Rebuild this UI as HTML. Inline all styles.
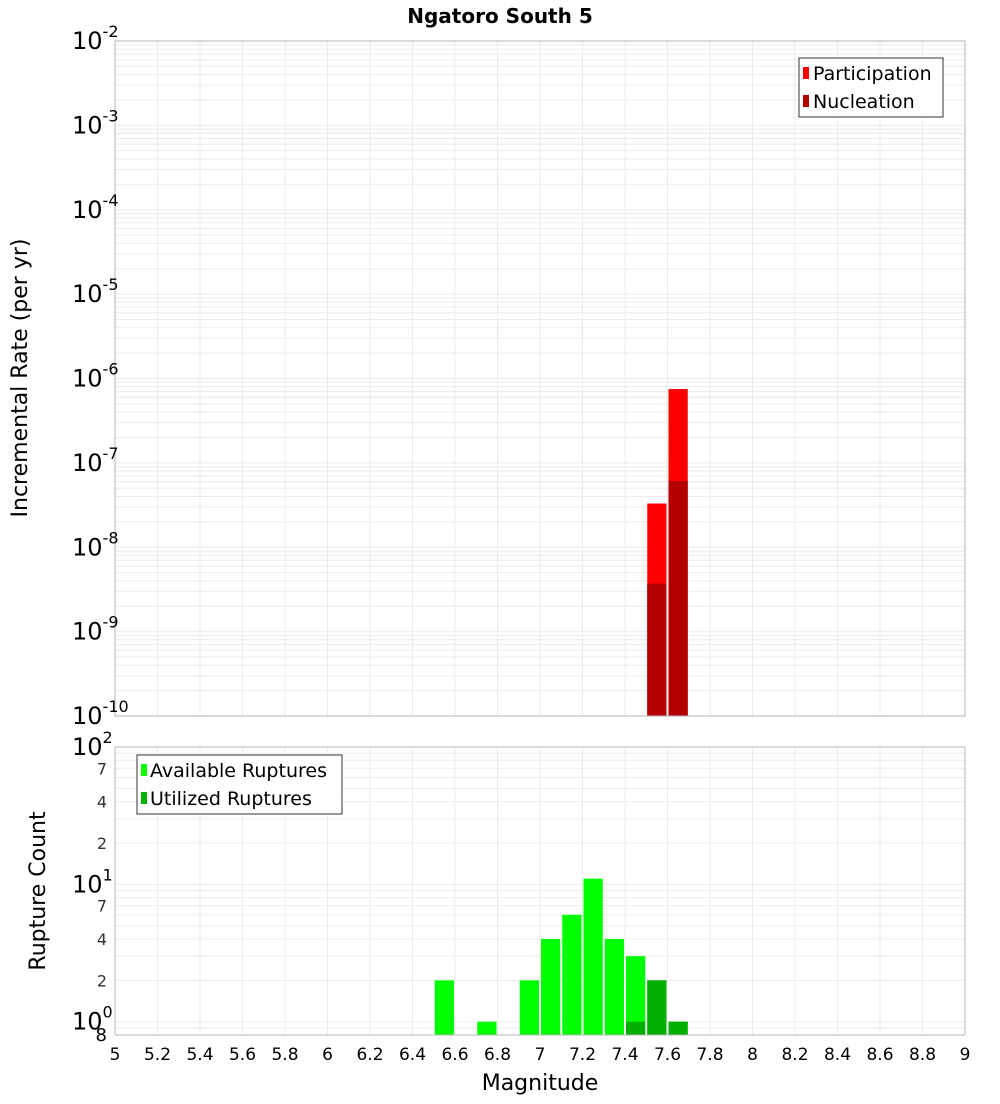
<!DOCTYPE html>
<html><head><meta charset="utf-8"><style>
body{margin:0;background:#fff;font-family:"DejaVu Sans","Liberation Sans",sans-serif}
</style></head><body>
<svg id="c" width="1000" height="1100" xmlns="http://www.w3.org/2000/svg" font-family="DejaVu Sans, Liberation Sans, sans-serif"></svg>
<script>
const mags=[6.55,6.75,6.95,7.05,7.15,7.25,7.35,7.45,7.55,7.65];
const available=[2,1,2,4,6,11,4,3,2,1];
const utilized=[0,0,0,0,0,0,0,1,2,1];
const rateMags=[7.55,7.65];
const participation=[3.3e-8,7.5e-7];
const nucleation=[3.7e-9,6.1e-8];
const xTicks=[5,5.2,5.4,5.6,5.8,6,6.2,6.4,6.6,6.8,7,7.2,7.4,7.6,7.8,8,8.2,8.4,8.6,8.8,9];
const topExp=[-10,-9,-8,-7,-6,-5,-4,-3,-2];
const botMinor=[2,4,7,20,40,70];

const S=document.getElementById('c'),NS='http://www.w3.org/2000/svg';
function el(t,a,p){const e=document.createElementNS(NS,t);for(const k in a)e.setAttribute(k,a[k]);(p||S).appendChild(e);return e;}
const X0=115,X1=965;
const x=m=>X0+(m-5)/4*(X1-X0);
const T0=41,T1=716;
const yTop=v=>T0+(-2-Math.log10(v))/8*(T1-T0);
const B0=747,B1=1035,bl=Math.log10(0.8);
const yBot=v=>B0+(2-Math.log10(v))/(2-bl)*(B1-B0);

el('text',{x:500,y:23,'text-anchor':'middle','font-size':20,'font-weight':'bold',}).textContent='Ngatoro South 5';

// top panel
const g1=el('g',{});
for(let d=-10;d<-2;d++)for(let k=1;k<10;k++){const yy=yTop(k*Math.pow(10,d));el('line',{x1:X0,x2:X1,y1:yy,y2:yy,stroke:'#ebebeb','stroke-width':1},g1);}
for(const t of xTicks){el('line',{x1:x(t),x2:x(t),y1:T0,y2:T1,stroke:'#ebebeb'},g1);el('line',{x1:x(t),x2:x(t),y1:B0,y2:B1,stroke:'#ebebeb'},g1);}
rateMags.forEach((m,i)=>{
 const r=el('rect',{x:x(m-0.05)+1,width:x(m+0.05)-x(m-0.05)-2,y:yTop(participation[i]),height:T1-yTop(participation[i]),fill:'#ff0000'},g1);
 
 const n=el('rect',{x:x(m-0.05)+1,width:x(m+0.05)-x(m-0.05)-2,y:yTop(nucleation[i]),height:T1-yTop(nucleation[i]),fill:'#b30000'},g1);
 
});
el('rect',{x:X0,y:T0,width:X1-X0,height:T1-T0,fill:'none',stroke:'#b4b4b4'},g1);
topExp.forEach(e=>{const yy=yTop(Math.pow(10,e));const t=el('text',{x:72,y:yy+8,'font-size':24},g1);t.innerHTML='10<tspan dy="-12" font-size="16">'+e+'</tspan>';});
const yt=el('text',{x:0,y:0,'font-size':22,'text-anchor':'middle',transform:'translate(27,378) rotate(-90)',});yt.textContent='Incremental Rate (per yr)';
const lg=el('g',{});
el('rect',{x:799,y:58,width:144,height:59,fill:'#fff',stroke:'#333'},lg);
el('rect',{x:803,y:67,width:6,height:12,fill:'#ff0000'},lg);
el('rect',{x:803,y:95,width:6,height:12,fill:'#b30000'},lg);
el('text',{x:813,y:80,'font-size':19},lg).textContent='Participation';
el('text',{x:813,y:108,'font-size':19},lg).textContent='Nucleation';

// bottom panel
const g2=el('g',{});
for(let d=bl;d<2;d++){}
[0.8,0.9,1,2,3,4,5,6,7,8,9,10,20,30,40,50,60,70,80,90,100].forEach(v=>{const yy=yBot(v);el('line',{x1:X0,x2:X1,y1:yy,y2:yy,stroke:'#ebebeb'},g2);});
mags.forEach((m,i)=>{
 const a=el('rect',{x:x(m-0.05)+1,width:x(m+0.05)-x(m-0.05)-2,y:yBot(available[i]),height:B1-yBot(available[i]),fill:'#00ff00'},g2);
 
 if(utilized[i]>0){const u=el('rect',{x:x(m-0.05)+1,width:x(m+0.05)-x(m-0.05)-2,y:yBot(utilized[i]),height:B1-yBot(utilized[i]),fill:'#00b000'},g2);
 }
});
el('rect',{x:X0,y:B0,width:X1-X0,height:B1-B0,fill:'none',stroke:'#b4b4b4'},g2);
[2,1,0].forEach(e=>{const yy=yBot(Math.pow(10,e));const t=el('text',{x:72,y:yy+8,'font-size':24},g2);t.innerHTML='10<tspan dy="-12" font-size="16">'+e+'</tspan>';});
botMinor.forEach(v=>{el('text',{x:107,y:yBot(v)+6,'font-size':16,'text-anchor':'end',fill:'#333'},g2).textContent=String(v).charAt(0);});
el('text',{x:107,y:1041,'font-size':18,'text-anchor':'end'},g2).textContent='8';
const yb=el('text',{x:0,y:0,'font-size':22,'text-anchor':'middle',transform:'translate(45,891) rotate(-90)',});yb.textContent='Rupture Count';
const lg2=el('g',{});
el('rect',{x:137,y:755,width:205,height:59,fill:'#fff',stroke:'#333'},lg2);
el('rect',{x:141,y:764,width:6,height:12,fill:'#00ff00'},lg2);
el('rect',{x:141,y:792,width:6,height:12,fill:'#00b000'},lg2);
el('text',{x:150,y:777,'font-size':19},lg2).textContent='Available Ruptures';
el('text',{x:150,y:805,'font-size':19},lg2).textContent='Utilized Ruptures';
xTicks.forEach(t=>{const tx=el('text',{x:x(t),y:1060,'font-size':17,'text-anchor':'middle'});tx.textContent=String(t);});
el('text',{x:540,y:1090,'font-size':22,'text-anchor':'middle',}).textContent='Magnitude';
</script>
</body></html>
